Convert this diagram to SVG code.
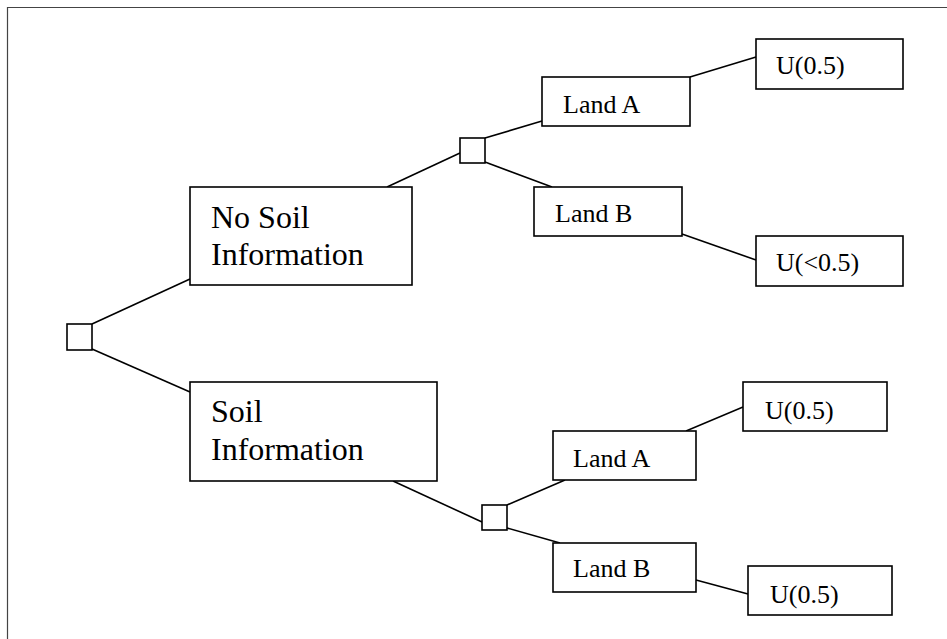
<svg xmlns="http://www.w3.org/2000/svg" width="947" height="639" viewBox="0 0 947 639">
<style>
.box{fill:#fff;stroke:#000;stroke-width:1.6}
.dec{fill:#fff;stroke:#000;stroke-width:1.6}
.ln{stroke:#000;stroke-width:1.6;fill:none}
text{font-family:'Liberation Serif','DejaVu Serif',serif;fill:#000}
.big{font-size:32px}
.sm{font-size:26px}
</style>
<rect width="947" height="639" fill="#fff"/>
<path d="M7.5,660 V7.5 H960" fill="none" stroke="#444" stroke-width="1.2"/>
<g id="connectors">
<line class="ln" x1="92" y1="324" x2="190" y2="279"/>
<line class="ln" x1="92" y1="349" x2="190" y2="392"/>
<line class="ln" x1="387" y1="187" x2="460" y2="153"/>
<line class="ln" x1="485" y1="138" x2="542" y2="121"/>
<line class="ln" x1="485" y1="162" x2="552" y2="187"/>
<line class="ln" x1="690" y1="77" x2="756" y2="57"/>
<line class="ln" x1="682" y1="234" x2="756" y2="260"/>
<line class="ln" x1="393" y1="481" x2="482" y2="522"/>
<line class="ln" x1="507" y1="505" x2="565" y2="480"/>
<line class="ln" x1="507" y1="528" x2="560" y2="543"/>
<line class="ln" x1="686" y1="431" x2="743" y2="407"/>
<line class="ln" x1="696" y1="580" x2="748" y2="594"/>
</g>
<g id="root-decision"><rect class="dec" x="67" y="324" width="25" height="26"/></g>
<g id="no-soil">
<rect class="box" x="190" y="187" width="222" height="98"/>
<text class="big" x="211" y="228" font-family="Liberation Serif, serif">No Soil</text>
<text class="big" x="211" y="265" font-family="Liberation Serif, serif">Information</text>
</g>
<g id="soil">
<rect class="box" x="190" y="382" width="247" height="99"/>
<text class="big" x="211" y="422">Soil</text>
<text class="big" x="211" y="460">Information</text>
</g>
<g id="decision-no-soil"><rect class="dec" x="460" y="138" width="25" height="25"/></g>
<g id="decision-soil"><rect class="dec" x="482" y="505" width="25" height="25"/></g>
<g id="land-a-1">
<rect class="box" x="542" y="77" width="148" height="49"/>
<text class="sm" x="563" y="113">Land A</text>
</g>
<g id="land-b-1">
<rect class="box" x="534" y="187" width="148" height="49"/>
<text class="sm" x="555" y="222">Land B</text>
</g>
<g id="u-1">
<rect class="box" x="756" y="39" width="147" height="50"/>
<text class="sm" x="776" y="74">U(0.5)</text>
</g>
<g id="u-2">
<rect class="box" x="756" y="236" width="147" height="50"/>
<text class="sm" x="776" y="271">U(&lt;0.5)</text>
</g>
<g id="land-a-2">
<rect class="box" x="553" y="431" width="143" height="49"/>
<text class="sm" x="573" y="467">Land A</text>
</g>
<g id="land-b-2">
<rect class="box" x="553" y="543" width="143" height="49"/>
<text class="sm" x="573" y="577">Land B</text>
</g>
<g id="u-3">
<rect class="box" x="743" y="382" width="144" height="49"/>
<text class="sm" x="765" y="419">U(0.5)</text>
</g>
<g id="u-4">
<rect class="box" x="748" y="566" width="144" height="49"/>
<text class="sm" x="770" y="603">U(0.5)</text>
</g>
</svg>
